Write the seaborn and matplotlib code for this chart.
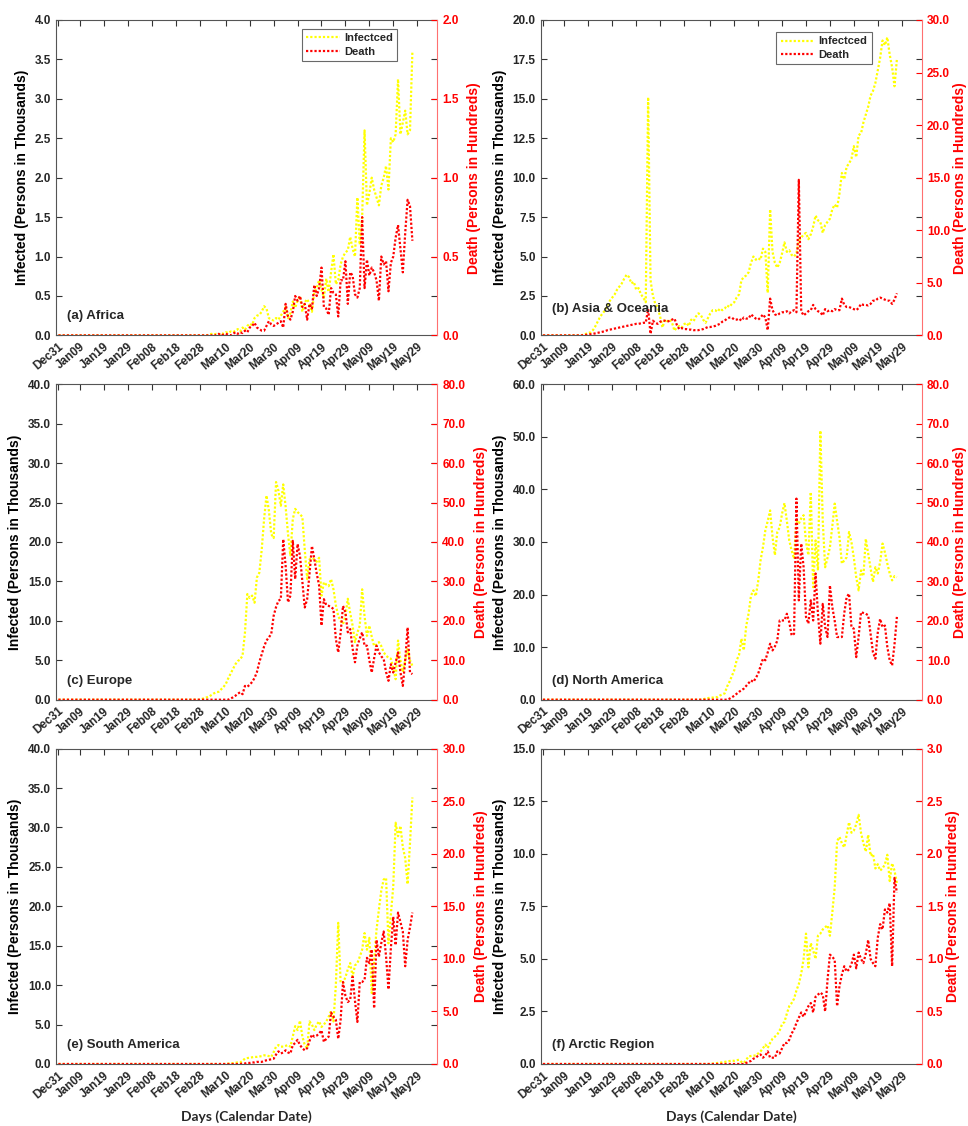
import numpy as np
import matplotlib
matplotlib.use("Agg")
import matplotlib.pyplot as plt
import seaborn as sns
from matplotlib.lines import Line2D
from matplotlib.ticker import FormatStrFormatter, MultipleLocator

# %%
# x axis: days counted from Dec31
tick_days = [0, 9, 19, 29, 39, 49, 59, 70, 80, 90, 100, 110, 120, 130, 140, 150]
tick_labels = ["Dec31", "Jan09", "Jan19", "Jan29", "Feb08", "Feb18", "Feb28", "Mar10",
               "Mar20", "Mar30", "Apr09", "Apr19", "Apr29", "May09", "May19", "May29"]

# daily values (infected in thousands, death in hundreds)
# (a) Africa
a_inf = [0.0] * 62 + [
    0.00, 0.01, 0.02, 0.01, 0.02, 0.01, 0.03, 0.02, 0.04, 0.03,
    0.05, 0.04, 0.06, 0.08, 0.05, 0.10, 0.07, 0.12, 0.15, 0.13,
    0.22, 0.25, 0.26, 0.30, 0.37, 0.34, 0.22, 0.20, 0.19, 0.22,
    0.20, 0.25, 0.30, 0.36, 0.22, 0.28, 0.43, 0.35, 0.44, 0.50,
    0.30, 0.42, 0.46, 0.40, 0.30, 0.55, 0.60, 0.70, 0.58, 0.48,
    0.72, 0.55, 0.80, 1.03, 0.65, 0.70, 0.90, 1.00, 1.05, 1.08,
    1.25, 1.10, 1.00, 1.75, 1.15, 1.50, 2.60, 1.65, 1.80, 2.00,
    1.85, 1.75, 1.65, 1.90, 2.00, 2.15, 1.85, 2.50, 2.45, 2.55,
    3.25, 2.55, 2.70, 2.85, 2.55, 2.60, 3.60]
a_death = [0.0] * 62 + [
    0.00, 0.00, 0.00, 0.005, 0.00, 0.01, 0.00, 0.005, 0.01, 0.005,
    0.00, 0.01, 0.02, 0.01, 0.02, 0.015, 0.03, 0.02, 0.05, 0.06,
    0.08, 0.05, 0.04, 0.03, 0.03, 0.06, 0.09, 0.07, 0.06, 0.07,
    0.08, 0.09, 0.05, 0.20, 0.12, 0.10, 0.15, 0.25, 0.22, 0.25,
    0.18, 0.20, 0.10, 0.20, 0.17, 0.32, 0.25, 0.30, 0.43, 0.18,
    0.17, 0.13, 0.30, 0.27, 0.26, 0.12, 0.35, 0.35, 0.47, 0.20,
    0.40, 0.38, 0.26, 0.24, 0.30, 0.75, 0.30, 0.48, 0.38, 0.43,
    0.40, 0.35, 0.22, 0.50, 0.45, 0.47, 0.28, 0.46, 0.50, 0.62,
    0.70, 0.55, 0.40, 0.65, 0.86, 0.82, 0.60]

# (b) Asia & Oceania
b_inf = [0.0] * 15 + [
    0.00, 0.00, 0.05, 0.10, 0.15, 0.20, 0.35, 0.60, 0.90, 1.20,
    1.40, 1.60, 1.90, 2.20, 2.40, 2.60, 2.90, 3.10, 3.30, 3.60,
    3.85, 3.70, 3.30, 3.40, 2.90, 3.00, 2.60, 2.40, 2.10, 15.10,
    3.50, 2.50, 2.00, 1.80, 1.20, 0.50, 1.00, 0.90, 1.00, 0.80,
    0.30, 0.50, 0.60, 0.50, 0.70, 0.80, 0.60, 1.00, 0.90, 1.20,
    1.40, 1.30, 1.00, 0.80, 1.10, 1.40, 1.60, 1.60, 1.50, 1.70,
    1.60, 1.70, 1.90, 1.80, 2.00, 2.10, 2.40, 2.60, 3.50, 3.70,
    3.80, 4.00, 4.60, 5.00, 4.80, 4.90, 4.80, 5.50, 5.30, 2.70,
    8.00, 5.30, 4.60, 4.30, 4.60, 5.20, 5.90, 5.30, 5.40, 5.10,
    5.00, 5.20, 6.00, 6.20, 6.40, 6.50, 6.10, 6.40, 6.90, 7.60,
    7.30, 7.20, 6.50, 7.00, 7.20, 7.40, 8.00, 8.30, 8.10, 9.00,
    10.30, 9.90, 10.70, 10.90, 11.20, 12.00, 11.30, 12.70, 12.80, 13.50,
    14.00, 14.50, 15.20, 15.50, 16.00, 16.80, 17.60, 18.70, 18.40, 18.90,
    17.80, 17.00, 15.80, 17.50]
b_death = [0.0] * 15 + [
    0.00, 0.00, 0.02, 0.05, 0.08, 0.10, 0.15, 0.20, 0.25, 0.30,
    0.35, 0.40, 0.50, 0.55, 0.60, 0.65, 0.70, 0.75, 0.80, 0.85,
    0.90, 0.95, 1.00, 1.05, 1.10, 1.10, 1.15, 1.20, 1.20, 2.50,
    0.15, 1.40, 1.20, 1.10, 1.30, 1.40, 1.40, 1.30, 1.40, 1.50,
    1.60, 1.00, 0.60, 0.70, 0.60, 0.60, 0.55, 0.55, 0.50, 0.50,
    0.50, 0.55, 0.60, 0.70, 0.80, 0.80, 0.85, 0.90, 1.00, 1.10,
    1.30, 1.40, 1.60, 1.70, 1.70, 1.50, 1.50, 1.60, 1.40, 1.70,
    1.60, 1.60, 2.00, 1.80, 1.60, 1.50, 1.70, 2.00, 1.70, 0.50,
    3.50, 2.40, 2.00, 1.90, 2.10, 2.20, 2.20, 2.30, 2.10, 2.30,
    2.40, 2.20, 14.80, 2.30, 1.90, 2.10, 2.30, 2.40, 2.90, 2.50,
    2.30, 2.20, 1.90, 2.50, 2.30, 2.40, 2.30, 2.50, 2.40, 2.40,
    3.50, 2.90, 2.70, 2.70, 2.60, 2.50, 2.40, 2.60, 3.00, 2.90,
    2.90, 2.85, 3.00, 3.30, 3.30, 3.50, 3.60, 3.50, 3.40, 3.30,
    3.30, 3.00, 3.40, 4.00]

# (c) Europe
c_inf = [0.0] * 59 + [
    0.00, 0.10, 0.20, 0.30, 0.40, 0.60, 0.80, 0.95, 1.00, 1.30,
    1.60, 2.00, 2.70, 3.30, 3.90, 4.50, 4.90, 5.10, 5.60, 8.50,
    13.40, 12.90, 13.20, 12.30, 15.50, 16.10, 19.00, 22.90, 25.90, 24.00,
    21.00, 20.50, 27.60, 26.50, 24.60, 27.30, 24.50, 21.00, 18.30, 22.90,
    24.20, 23.80, 23.50, 23.20, 19.00, 15.30, 17.80, 18.00, 17.80, 17.50,
    18.00, 13.20, 14.90, 14.60, 14.40, 15.30, 14.00, 12.00, 10.60, 10.00,
    9.60, 10.60, 12.80, 11.00, 9.40, 7.30, 8.50, 9.40, 14.00, 10.60,
    8.10, 9.40, 8.00, 6.80, 7.00, 7.30, 6.80, 6.00, 5.60, 5.30,
    5.20, 4.00, 2.60, 7.50, 5.00, 3.50, 5.00, 6.40, 5.00, 4.30]
c_death = [0.0] * 70 + [
    0.0, 0.0, 0.3, 0.6, 1.0, 1.5, 1.9, 1.4, 3.5, 3.3,
    3.8, 4.5, 5.5, 7.0, 9.5, 11.5, 13.5, 15.0, 15.8, 16.7,
    21.3, 23.5, 25.1, 25.5, 40.7, 34.0, 24.7, 26.4, 40.3, 30.6,
    39.5, 36.5, 30.0, 23.4, 25.5, 32.0, 39.0, 35.7, 32.0, 29.0,
    18.8, 25.5, 24.0, 23.8, 23.5, 23.0, 15.4, 12.0, 17.0, 23.8,
    22.1, 17.1, 17.9, 13.0, 9.5, 13.7, 15.5, 17.1, 13.7, 13.7,
    10.0, 6.9, 10.5, 13.7, 12.0, 11.0, 10.3, 7.0, 4.8, 9.0,
    6.9, 9.5, 12.0, 7.0, 3.5, 10.0, 18.3, 6.9, 6.5]

# (d) North America
d_inf = [0.0] * 66 + [
    0.0, 0.1, 0.2, 0.3, 0.4, 0.4, 0.5, 0.5, 0.8, 1.0,
    1.2, 2.5, 3.4, 4.5, 5.6, 7.5, 8.5, 11.6, 9.4, 14.0,
    16.4, 19.8, 20.8, 19.7, 22.5, 26.5, 29.0, 32.2, 34.0, 36.0,
    31.0, 27.5, 31.9, 32.8, 35.4, 37.4, 34.0, 30.3, 28.4, 26.8,
    34.1, 33.5, 34.5, 35.1, 30.0, 27.5, 39.5, 21.4, 30.3, 24.6,
    51.2, 34.1, 25.2, 27.0, 29.0, 33.0, 37.3, 34.0, 30.9, 25.9,
    26.5, 27.1, 31.9, 30.0, 27.0, 23.3, 20.8, 24.6, 23.5, 30.6,
    27.8, 25.0, 22.4, 25.2, 24.0, 26.2, 29.7, 28.0, 25.9, 24.0,
    22.7, 23.5, 23.3]
d_death = [0.0] * 77 + [
    0.0, 0.25, 0.6, 1.0, 1.5, 2.0, 2.4, 2.8, 3.5, 4.2,
    4.9, 4.5, 5.5, 6.6, 8.5, 10.4, 10.0, 12.0, 14.2, 12.5,
    13.5, 15.0, 20.1, 20.1, 20.1, 21.8, 19.7, 16.3, 16.7, 51.0,
    25.2, 39.6, 33.6, 21.0, 19.3, 25.2, 20.1, 32.0, 21.8, 14.2,
    24.3, 18.4, 15.9, 29.0, 23.5, 20.0, 15.9, 15.9, 15.9, 22.0,
    26.0, 26.9, 18.4, 18.0, 10.8, 16.0, 22.2, 22.0, 21.8, 21.4,
    16.7, 12.0, 10.4, 17.0, 20.5, 18.4, 18.8, 13.4, 10.0, 8.7,
    14.0, 21.0]

# (e) South America
e_inf = [0.0] * 70 + [
    0.00, 0.05, 0.10, 0.10, 0.15, 0.20, 0.20, 0.40, 0.70, 0.75,
    0.80, 0.85, 0.90, 0.90, 0.95, 1.00, 1.10, 1.10, 1.00, 0.90,
    1.50, 2.20, 2.40, 2.20, 2.20, 2.30, 2.40, 2.20, 3.50, 4.80,
    4.30, 5.50, 3.50, 2.40, 2.00, 5.40, 5.00, 4.30, 5.00, 5.40,
    4.70, 5.00, 5.40, 6.00, 6.70, 5.40, 10.00, 17.90, 10.30, 10.30,
    11.00, 12.00, 12.80, 11.10, 12.50, 12.80, 13.60, 14.50, 16.60, 14.50,
    16.00, 9.00, 13.00, 17.00, 19.60, 22.00, 23.40, 23.60, 15.30, 19.00,
    22.50, 30.60, 28.90, 30.20, 27.50, 26.10, 22.80, 28.00, 33.80]
e_death = [0.0] * 75 + [
    0.00, 0.00, 0.05, 0.05, 0.10, 0.10, 0.15, 0.15, 0.20, 0.20,
    0.20, 0.30, 0.35, 0.40, 0.45, 0.50, 0.90, 1.20, 1.00, 1.10,
    1.30, 1.10, 1.00, 1.80, 2.00, 2.30, 1.80, 1.50, 1.30, 1.50,
    2.20, 2.80, 2.60, 2.70, 2.90, 3.20, 2.10, 2.40, 2.60, 4.90,
    4.50, 4.20, 2.40, 4.20, 7.80, 6.50, 5.90, 6.10, 8.30, 6.00,
    4.00, 7.80, 7.80, 8.00, 10.10, 9.60, 10.90, 5.30, 11.80, 10.20,
    11.50, 12.60, 10.20, 7.10, 11.00, 14.00, 11.30, 14.40, 13.50, 12.60,
    9.30, 11.80, 13.00, 14.40]

# (f) Arctic Region
f_inf = [0.0] * 70 + [
    0.00, 0.02, 0.03, 0.05, 0.06, 0.08, 0.10, 0.12, 0.14, 0.16,
    0.15, 0.18, 0.20, 0.10, 0.05, 0.20, 0.36, 0.38, 0.40, 0.40,
    0.50, 0.60, 0.75, 0.92, 0.76, 1.00, 1.20, 1.30, 1.40, 1.60,
    1.90, 2.00, 2.40, 2.75, 2.90, 3.10, 3.50, 3.80, 4.30, 5.00,
    6.20, 4.60, 5.75, 5.40, 5.00, 6.10, 6.20, 6.40, 6.50, 6.60,
    6.10, 7.20, 8.40, 10.60, 10.80, 10.50, 10.30, 10.90, 11.50, 11.00,
    11.10, 11.40, 11.85, 11.00, 10.50, 10.10, 10.90, 9.90, 10.00, 9.30,
    9.50, 9.20, 9.30, 9.50, 9.95, 8.70, 9.55, 9.20, 8.60]
f_death = [0.0] * 84 + [
    0.00, 0.01, 0.02, 0.03, 0.05, 0.06, 0.08, 0.09, 0.06, 0.08,
    0.12, 0.06, 0.06, 0.06, 0.12, 0.10, 0.15, 0.20, 0.20, 0.23,
    0.29, 0.33, 0.39, 0.44, 0.49, 0.45, 0.50, 0.55, 0.58, 0.49,
    0.64, 0.66, 0.68, 0.66, 0.50, 0.80, 1.04, 1.02, 0.99, 0.55,
    0.74, 0.85, 0.93, 0.88, 0.90, 0.95, 1.04, 0.91, 1.06, 1.00,
    0.96, 1.05, 1.18, 1.00, 0.96, 0.93, 1.20, 1.33, 1.28, 1.47,
    1.44, 1.53, 0.93, 1.77, 1.63]

panels = [
    ("(a) Africa", a_inf, a_death, 4.0, 0.5, 2.0, 0.5),
    ("(b) Asia & Oceania", b_inf, b_death, 20.0, 2.5, 30.0, 5.0),
    ("(c) Europe", c_inf, c_death, 40.0, 5.0, 80.0, 10.0),
    ("(d) North America", d_inf, d_death, 60.0, 10.0, 80.0, 10.0),
    ("(e) South America", e_inf, e_death, 40.0, 5.0, 30.0, 5.0),
    ("(f) Arctic Region", f_inf, f_death, 15.0, 2.5, 3.0, 0.5),
]

# %%
sns.set_style("white")
plt.rcParams["font.family"] = ["Liberation Sans", "DejaVu Sans"]
plt.rcParams["font.weight"] = "bold"

YELLOW = "#ffff00"
RED = "#ff0000"
DOT = (0, (1.0, 0.9))

fig, axes = plt.subplots(3, 2, figsize=(9.68, 11.26), dpi=100)
fig.subplots_adjust(left=56 / 968, right=922 / 968, top=1 - 20 / 1126,
                    bottom=1 - 1064 / 1126, wspace=0.27, hspace=0.155)

for i, (ax, (name, inf, death, ymax, ystep, dmax, dstep)) in enumerate(zip(axes.flat, panels)):
    ax2 = ax.twinx()

    sns.lineplot(x=np.arange(len(inf)), y=inf, ax=ax, color=YELLOW,
                 linestyle=DOT, linewidth=1.6)
    sns.lineplot(x=np.arange(len(death)), y=death, ax=ax2, color=RED,
                 linestyle=DOT, linewidth=1.6)

    ax.set_xlim(-1, 158.5)
    ax.set_ylim(0, ymax)
    ax2.set_ylim(0, dmax)
    ax.yaxis.set_major_locator(MultipleLocator(ystep))
    ax2.yaxis.set_major_locator(MultipleLocator(dstep))
    ax.yaxis.set_major_formatter(FormatStrFormatter("%.1f"))
    ax2.yaxis.set_major_formatter(FormatStrFormatter("%.1f"))

    ax.set_xticks(tick_days)
    ax.set_xticklabels(tick_labels, rotation=40, ha="right", rotation_mode="anchor")

    ax.tick_params(axis="x", direction="in", top=True, length=4, width=0.8,
                   labelsize=8.5, color="#333333", pad=4)
    ax.tick_params(axis="y", direction="in", left=True, right=True, length=4,
                   width=0.8, labelsize=8.5, color="#333333")
    ax2.tick_params(axis="y", direction="in", right=True, length=4, width=0.8,
                    labelsize=8.5, color=RED, labelcolor=RED)

    for s in ["left", "top", "bottom"]:
        ax.spines[s].set_color("#555555")
        ax.spines[s].set_linewidth(0.8)
        ax2.spines[s].set_visible(False)
    ax.spines["right"].set_visible(False)
    ax2.spines["right"].set_color("#ff7070")
    ax2.spines["right"].set_linewidth(0.8)

    ax.set_ylabel("Infected (Persons in Thousands)", fontsize=10, fontweight="bold",
                  color="black", labelpad=4)
    # right column: keep the label inside the figure edge
    ax2.set_ylabel("Death (Persons in Hundreds)", fontsize=10, fontweight="bold",
                   color=RED, labelpad=6 if i % 2 == 0 else 2)
    if i >= 4:
        ax.set_xlabel("Days (Calendar Date)", fontsize=10, fontweight="bold",
                      family=["Lato", "DejaVu Sans"], labelpad=6)
    else:
        ax.set_xlabel("")

    ty = 0.083 if i == 1 else 0.06
    ax2.text(0.03, ty, name, transform=ax.transAxes, fontsize=9.5,
             fontweight="bold", va="center", ha="left")

    if i < 2:
        handles = [Line2D([], [], color=YELLOW, linestyle=DOT, linewidth=1.6),
                   Line2D([], [], color=RED, linestyle=DOT, linewidth=1.6)]
        anchor = (0.895, 0.972) if i == 0 else (0.869, 0.962)
        leg = ax2.legend(handles, ["Infectced", "Death"], loc="upper right",
                         bbox_to_anchor=anchor, frameon=True, fancybox=False,
                         edgecolor="#444444", fontsize=8, handlelength=3.0,
                         borderpad=0.4, labelspacing=0.3, handletextpad=0.4,
                         borderaxespad=0)
        leg.get_frame().set_linewidth(0.8)

plt.savefig("out.png", dpi=100)
